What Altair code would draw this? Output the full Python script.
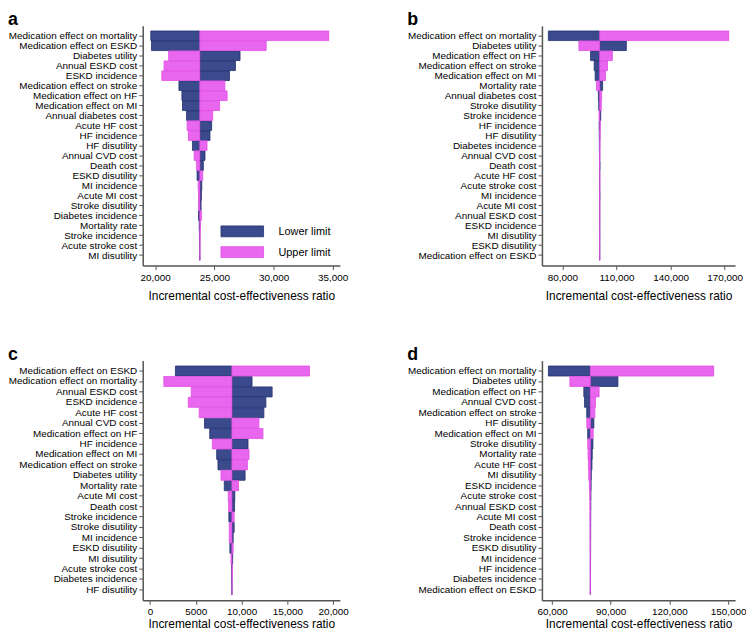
import altair as alt
import pandas as pd

FONT = "Liberation Sans"
NAVY = "#3a4a8c"
NAVY_EDGE = "#22306e"
MAGENTA = "#e966ee"
MAGENTA_EDGE = "#e04de6"
AXC = "#555555"
LIMITS = ["Lower limit", "Upper limit"]

# ---------------- Panel a ----------------
labels_a = ["Medication effect on mortality", "Medication effect on ESKD", "Diabetes utility",
            "Annual ESKD cost", "ESKD incidence", "Medication effect on stroke", "Medication effect on HF",
            "Medication effect on MI", "Annual diabetes cost", "Acute HF cost", "HF incidence",
            "HF disutility", "Annual CVD cost", "Death cost", "ESKD disutility", "MI incidence",
            "Acute MI cost", "Stroke disutility", "Diabetes incidence", "Mortality rate",
            "Stroke incidence", "Acute stroke cost", "MI disutility"]
lower_a = [19630, 19690, 27170, 26780, 26280, 22010, 22260, 22310, 22650, 24770, 24630,
           23150, 24210, 24070, 23540, 23940, 23910, 23880, 23660, 23720, 23740, 23745, 23760]
upper_a = [34660, 29380, 21140, 20750, 20560, 25890, 26080, 25440, 24860, 22700, 22810,
           24380, 23290, 23490, 24020, 23630, 23660, 23660, 23910, 23830, 23800, 23795, 23780]
base_a = 23770

# ---------------- Panel b ----------------
labels_b = ["Medication effect on mortality", "Diabetes utility", "Medication effect on HF",
            "Medication effect on stroke", "Medication effect on MI", "Mortality rate",
            "Annual diabetes cost", "Stroke disutility", "Stroke incidence", "HF incidence",
            "HF disutility", "Diabetes incidence", "Annual CVD cost", "Death cost", "Acute HF cost",
            "Acute stroke cost", "MI incidence", "Acute MI cost", "Annual ESKD cost", "ESKD incidence",
            "MI disutility", "ESKD disutility", "Medication effect on ESKD"]
lower_b = [72250, 115500, 95680, 97660, 98200, 102340, 100000, 100180, 101300, 100400,
           100500, 100550, 100600, 100850, 100620, 100640, 100800, 100660, 100680, 100690,
           100700, 100705, 100710]
upper_b = [172260, 89190, 107750, 105050, 103970, 98920, 101800, 101620, 100350, 101100,
           101000, 100900, 100850, 100600, 100820, 100800, 100650, 100780, 100760, 100750,
           100740, 100735, 100730]
base_b = 100720

# ---------------- Panel c ----------------
labels_c = ["Medication effect on ESKD", "Medication effect on mortality", "Annual ESKD cost",
            "ESKD incidence", "Acute HF cost", "Annual CVD cost", "Medication effect on HF",
            "HF incidence", "Medication effect on MI", "Medication effect on stroke", "Diabetes utility",
            "Mortality rate", "Acute MI cost", "Death cost", "Stroke incidence", "Stroke disutility",
            "MI incidence", "ESKD disutility", "MI disutility", "Acute stroke cost",
            "Diabetes incidence", "HF disutility"]
lower_c = [2775, 11140, 13330, 12650, 12430, 5950, 6520, 10700, 7280, 7420, 10380,
           8110, 9260, 9230, 8610, 9190, 9080, 8720, 9020, 8900, 8910, 8930]
upper_c = [17410, 1514, 4505, 4180, 5370, 11890, 12330, 6810, 10810, 10630, 7750,
           9660, 8540, 8580, 9190, 8650, 8650, 9080, 8840, 9000, 8980, 8960]
base_c = 8940

# ---------------- Panel d ----------------
labels_d = ["Medication effect on mortality", "Diabetes utility", "Medication effect on HF",
            "Annual CVD cost", "Medication effect on stroke", "HF disutility", "Medication effect on MI",
            "Stroke disutility", "Mortality rate", "Acute HF cost", "MI disutility", "ESKD incidence",
            "Acute stroke cost", "Annual ESKD cost", "Acute MI cost", "Death cost", "Stroke incidence",
            "ESKD disutility", "MI incidence", "HF incidence", "Diabetes incidence",
            "Medication effect on ESKD"]
lower_d = [58170, 93700, 76270, 76600, 77760, 81410, 78260, 80920, 80580, 80420, 80100,
           80000, 79900, 79850, 79800, 79780, 79760, 79740, 79720, 79700, 79680, 79620]
upper_d = [142670, 69130, 84070, 82240, 81910, 77760, 81080, 78260, 78430, 78600, 78760,
           79100, 79300, 79400, 79420, 79450, 79480, 79500, 79520, 79540, 79560, 79600]
base_d = 79600

ticks_a = [20000, 25000, 30000, 35000]
ticks_b = [80000, 110000, 140000, 170000]
ticks_c = [0, 5000, 10000, 15000, 20000]
ticks_d = [60000, 90000, 120000, 150000]


def make_df(labels, lower, upper, base):
    rows = []
    for lab, lo in zip(labels, lower):
        rows.append({"param": lab, "limit": LIMITS[0], "value": lo, "base": base})
    for lab, up in zip(labels, upper):
        rows.append({"param": lab, "limit": LIMITS[1], "value": up, "base": base})
    return pd.DataFrame(rows)


def title(letter):
    return alt.TitleParams(letter, anchor="start", frame="bounds", fontSize=18,
                           fontWeight="bold", font=FONT, color="black", offset=-3)


def bars(labels, lower, upper, base, domain, ticks, tpad, lpad, width):
    df = make_df(labels, lower, upper, base)
    return alt.Chart(df).mark_bar(strokeWidth=0.8).encode(
        y=alt.Y("param:N", sort=labels,
                scale=alt.Scale(paddingInner=0.04, paddingOuter=0.52),
                axis=alt.Axis(title=None, labelFontSize=10, labelFont=FONT, labelColor="black",
                              tickSize=4, labelPadding=2, domainColor=AXC, tickColor=AXC,
                              domainWidth=1.5, tickWidth=1, labelLimit=400, grid=False)),
        x=alt.X("value:Q",
                scale=alt.Scale(domain=domain, nice=False, zero=False),
                axis=alt.Axis(values=ticks, title="Incremental cost-effectiveness ratio",
                              labelExpr="datum.value >= 10000 ? format(datum.value, ',') : format(datum.value, 'd')",
                              labelFontSize=10, labelFont=FONT, labelColor="black",
                              titleFontSize=12, titleFont=FONT, titleColor="black",
                              titleFontWeight="normal", titlePadding=tpad,
                              tickSize=4, labelPadding=lpad, domainColor=AXC, tickColor=AXC,
                              domainWidth=1.5, tickWidth=1, grid=False, labelFlush=False)),
        x2="base:Q",
        color=alt.Color("limit:N", scale=alt.Scale(domain=LIMITS, range=[NAVY, MAGENTA]),
                        legend=None),
        stroke=alt.Stroke("limit:N", scale=alt.Scale(domain=LIMITS, range=[NAVY_EDGE, MAGENTA_EDGE]),
                          legend=None),
    ).properties(width=width, height=242)


# manual legend (drawn inside panel a)
leg_df = pd.DataFrame({"limit": LIMITS})
leg_lower = alt.Chart(leg_df).transform_filter(alt.datum.limit == LIMITS[0])
leg_upper = alt.Chart(leg_df).transform_filter(alt.datum.limit == LIMITS[1])
legend_layers = [
    leg_lower.mark_rect(fill=NAVY, stroke=NAVY_EDGE, strokeWidth=0.8).encode(
        x=alt.value(79), x2=alt.value(122), y=alt.value(202), y2=alt.value(213)),
    leg_upper.mark_rect(fill=MAGENTA, stroke=MAGENTA_EDGE, strokeWidth=0.8).encode(
        x=alt.value(79), x2=alt.value(122), y=alt.value(223), y2=alt.value(234)),
    leg_lower.mark_text(align="left", baseline="middle", font=FONT, fontSize=11, color="black").encode(
        x=alt.value(137), y=alt.value(208), text="limit:N"),
    leg_upper.mark_text(align="left", baseline="middle", font=FONT, fontSize=11, color="black").encode(
        x=alt.value(137), y=alt.value(229), text="limit:N"),
]

pa = alt.layer(bars(labels_a, lower_a, upper_a, base_a, [18950, 35600], ticks_a, 8, 3, 199),
               *legend_layers, title=title("a"))
pb = bars(labels_b, lower_b, upper_b, base_b, [68700, 175800], ticks_b, 8, 3, 195).properties(title=title("b"))
pc = bars(labels_c, lower_c, upper_c, base_c, [-790, 20720], ticks_c, 2, 2, 199).properties(title=title("c"))
pd_ = bars(labels_d, lower_d, upper_d, base_d, [54850, 153600], ticks_d, 2, 2, 195).properties(title=title("d"))

row1 = alt.hconcat(pa, pb, spacing=59)
row2 = alt.hconcat(pc, pd_, spacing=59)

chart = alt.vconcat(row1, row2, spacing=45).configure_view(
    stroke=None
).properties(padding={"left": 0, "top": 0, "right": 0, "bottom": 0}, background="white")

chart.save("out.html", embed_options={"renderer": "svg", "actions": False})
